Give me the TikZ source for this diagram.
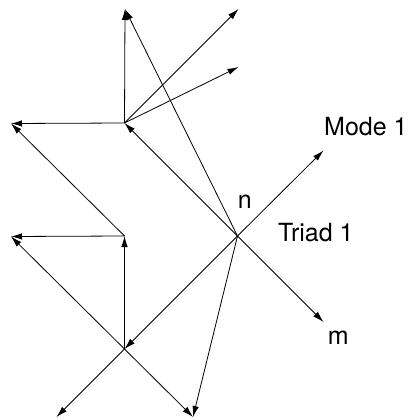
\documentclass[tikz,border=0pt]{standalone}
\usepackage{fontspec}
\setmainfont{TeX Gyre Heros}
\usetikzlibrary{arrows.meta}
\begin{document}
\begin{tikzpicture}[x=1pt,y=-1pt,
  vec/.style={line width=0.8pt,-{Latex[length=11pt,width=6.5pt]}},
  lbl/.style={anchor=base west,inner sep=0pt,font=\fontsize{25}{30}\selectfont}]
\useasboundingbox (0,0) rectangle (407,420);
% points
\coordinate (A) at (124.5,123);
\coordinate (B) at (237.5,236);
\coordinate (C) at (124.5,349);
\coordinate (D) at (124.5,236);
\coordinate (T1) at (125,9);
\coordinate (UR1) at (238.5,9);
\coordinate (UR2) at (238.5,67);
\coordinate (L1) at (11,123.5);
\coordinate (L2) at (11,236.5);
\coordinate (M1) at (323.5,150.5);
\coordinate (Mm) at (323.5,322);
\coordinate (BR) at (193,417);
\coordinate (LL) at (56.5,417);
% vectors from A
\draw[vec] (A) -- (T1);
\draw[vec] (A) -- (L1);
\draw[vec] (A) -- (UR1);
\draw[vec] (A) -- (UR2);
% vectors from B
\draw[vec] (B) -- (A);
\draw[vec] (B) -- (T1);
\draw[vec] (B) -- (M1);
\draw[vec] (B) -- (Mm);
\draw[vec] (B) -- (C);
\draw[vec] (B) -- (BR);
% vectors from D
\draw[vec] (D) -- (L1);
\draw[vec] (D) -- (L2);
% vectors from C
\draw[vec] (C) -- (D);
\draw[vec] (C) -- (L2);
\draw[vec] (C) -- (LL);
\draw[vec] (C) -- (BR);
% labels
\node[lbl] (mode) at (324,135) {Mode 1};
\node[lbl] (n) at (237.7,208.3) {n};
\node[lbl] (triad) at (277.8,241.7) {Triad 1};
\node[lbl] (m) at (327.7,344.3) {m};
\end{tikzpicture}
\end{document}
